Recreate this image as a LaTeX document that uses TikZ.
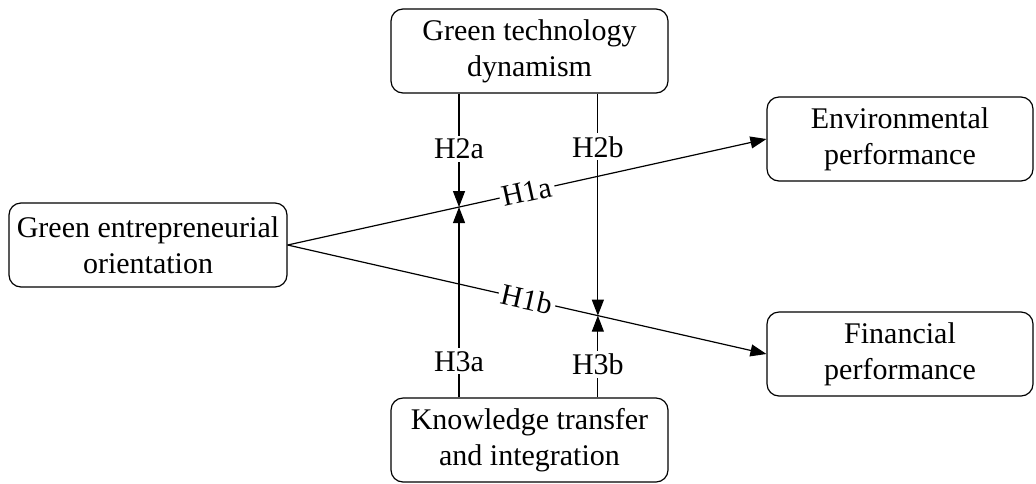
\documentclass[tikz,border=0pt]{standalone}
\usepackage{fontspec}
\setmainfont{Liberation Serif}
\usetikzlibrary{arrows.meta,calc}
\newcommand{\hyparrow}{-{Triangle[length=8pt,width=6pt]}}

\begin{document}
\begin{tikzpicture}[x=0.5pt,y=-0.5pt,line width=0.6pt,
  box/.style={draw,rounded corners=6pt,align=center,minimum height=42pt,inner sep=0pt,font=\fontsize{15}{18}\selectfont},
  hyp/.style={fill=white,inner sep=1.5pt,font=\fontsize{15}{18}\selectfont}]
  \useasboundingbox (0,0) rectangle (1036,483);
  \node[box,minimum width=139pt] (geo) at (148,245) {Green entrepreneurial\\orientation};
  \node[box,minimum width=138.5pt] (gtd) at (529.5,51) {Green technology\\dynamism};
  \node[box,minimum width=138.5pt] (kti) at (529.5,440) {Knowledge transfer\\and integration};
  \node[box,minimum width=133pt] (env) at (900,139) {Environmental\\performance};
  \node[box,minimum width=133pt] (fin) at (900,354) {Financial\\performance};
  % direct effects
  \draw[\hyparrow] (geo.east) -- node[hyp,sloped] {H1a} (env.west);
  \draw[\hyparrow] (geo.east) -- node[hyp,sloped] {H1b} (fin.west);
  % moderating effects
  \coordinate (m1) at ($(geo.east)!0.358!(env.west)$);
  \coordinate (m2) at ($(geo.east)!0.648!(fin.west)$);
  \draw[\hyparrow] (gtd.south -| m1) -- node[hyp,pos=0.49] {H2a} (m1);
  \draw[\hyparrow] (gtd.south -| m2) -- node[hyp,pos=0.24] {H2b} (m2);
  \draw[\hyparrow] (kti.north -| m1) -- node[hyp,pos=0.19] {H3a} (m1);
  \draw[\hyparrow] (kti.north -| m2) -- node[hyp,pos=0.40] {H3b} (m2);
\end{tikzpicture}
\end{document}
